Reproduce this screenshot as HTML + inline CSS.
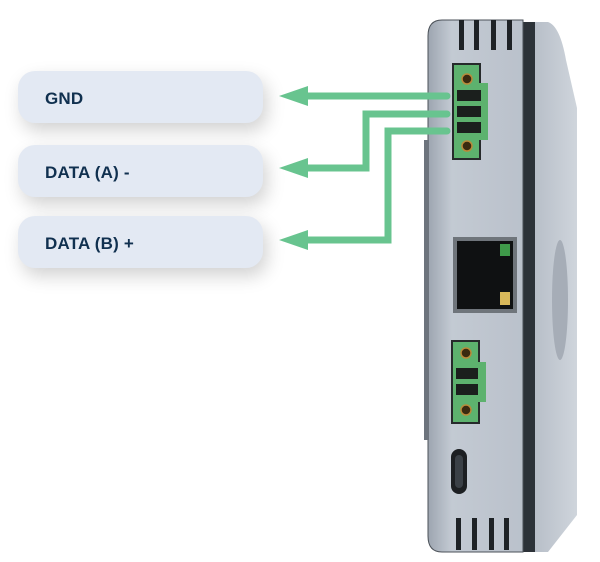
<!DOCTYPE html>
<html><head><meta charset="utf-8"><style>
body{margin:0;width:600px;height:562px;background:#fff;position:relative;overflow:hidden;font-family:"Liberation Sans",sans-serif}
.box{position:absolute;left:18px;width:245px;height:52px;border-radius:17px;background:#e3e9f3;box-shadow:4px 8px 18px rgba(0,0,0,.18);}
.box span{position:absolute;left:27px;top:18px;font-weight:bold;font-size:17px;color:#10304f;letter-spacing:.2px}
svg{position:absolute;left:0;top:0}
</style></head><body>
<div class="box" style="top:71px"><span>GND</span></div>
<div class="box" style="top:145px"><span>DATA (A) -</span></div>
<div class="box" style="top:216px"><span>DATA (B) +</span></div>
<svg width="600" height="562">
<defs><linearGradient id="side" x1="0" x2="1"><stop offset="0" stop-color="#b5bcc6"/><stop offset="1" stop-color="#cfd5dc"/></linearGradient>
<linearGradient id="front" x1="0" x2="1"><stop offset="0" stop-color="#9da5b0"/><stop offset=".25" stop-color="#c3cad3"/><stop offset="1" stop-color="#bac1cb"/></linearGradient></defs>
<path d="M530,22 L548,22 Q560,26 566,60 L577,108 L577,515 L548,552 L530,552 Z" fill="url(#side)"/>
<ellipse cx="560" cy="300" rx="8" ry="60" fill="#a6adb7"/>
<rect x="522" y="22" width="13" height="530" fill="#2c3238"/>
<path d="M442,20 L523,20 L523,552 L442,552 Q428,552 428,536 L428,36 Q428,20 442,20 Z" fill="url(#front)" stroke="#4b5158" stroke-width="1"/>
<rect x="424" y="140" width="5" height="300" fill="#6d747d"/>
<g fill="#1e2226">
<rect x="459" y="20" width="5" height="30"/><rect x="474" y="20" width="5" height="30"/><rect x="491" y="20" width="5" height="30"/><rect x="507" y="20" width="5" height="30"/>
<rect x="456" y="518" width="5" height="32"/><rect x="472" y="518" width="5" height="32"/><rect x="489" y="518" width="5" height="32"/><rect x="504" y="518" width="5" height="32"/>
</g>
<rect x="452" y="63" width="29" height="97" fill="#262a2b"/>
<rect x="454" y="65" width="25" height="93" fill="#5db26e"/>
<rect x="478" y="83" width="10" height="57" fill="#5db26e"/>
<circle cx="467" cy="79" r="5" fill="#3a2a10" stroke="#b98a3a" stroke-width="1.5"/>
<circle cx="467" cy="146" r="5" fill="#3a2a10" stroke="#b98a3a" stroke-width="1.5"/>
<rect x="457" y="90" width="24" height="11" fill="#1b1f1d"/><rect x="457" y="106" width="24" height="11" fill="#1b1f1d"/><rect x="457" y="122" width="24" height="11" fill="#1b1f1d"/>
<rect x="453" y="237" width="64" height="76" fill="#6f757b"/>
<rect x="457" y="241" width="56" height="68" fill="#0f1112"/>
<rect x="500" y="244" width="10" height="12" fill="#3f9a4a"/>
<rect x="500" y="292" width="10" height="13" fill="#d8b85a"/>
<rect x="451" y="340" width="29" height="84" fill="#262a2b"/>
<rect x="453" y="342" width="25" height="80" fill="#5db26e"/>
<rect x="477" y="362" width="9" height="40" fill="#5db26e"/>
<circle cx="466" cy="353" r="5" fill="#3a2a10" stroke="#b98a3a" stroke-width="1.5"/>
<circle cx="466" cy="410" r="5" fill="#3a2a10" stroke="#b98a3a" stroke-width="1.5"/>
<rect x="456" y="368" width="22" height="11" fill="#1b1f1d"/><rect x="456" y="384" width="22" height="11" fill="#1b1f1d"/>
<rect x="451" y="449" width="16" height="45" rx="8" fill="#1c1f22"/>
<rect x="455" y="455" width="8" height="33" rx="4" fill="#3a4046"/>
<g fill="none" stroke="#68c48f" stroke-width="7" stroke-linecap="round">
<path d="M447,96 L300,96"/>
<path d="M447,114 L366,114 L366,168 L300,168"/>
<path d="M447,131 L388,131 L388,240 L300,240"/>
</g>
<g fill="#68c48f">
<path d="M279,96 L308,86 L308,106 Z"/>
<path d="M279,168 L308,158 L308,178 Z"/>
<path d="M279,240 L308,230 L308,250 Z"/>
</g>
</svg>
</body></html>
